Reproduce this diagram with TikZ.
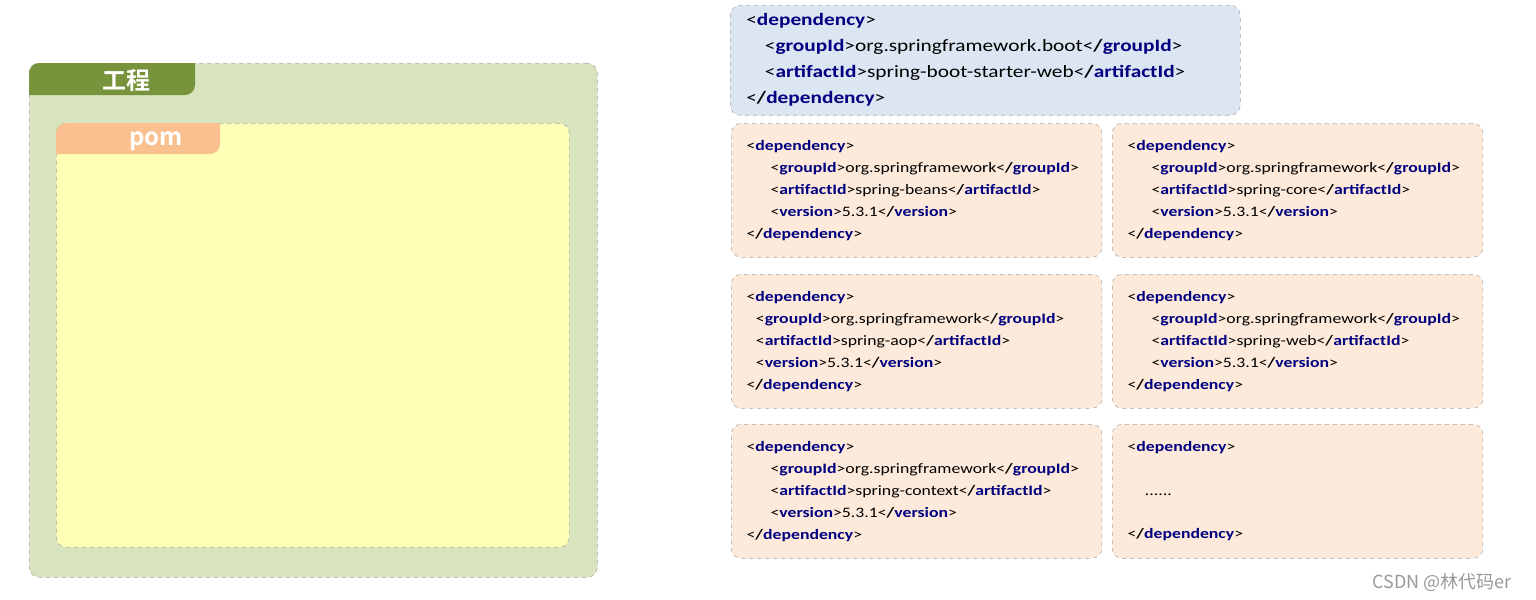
\documentclass[tikz,border=0pt]{standalone}
\usepackage{fontspec}
\usepackage{xcolor}
\usepackage{tikz}
\usetikzlibrary{positioning}

\newfontfamily\codefont[FakeStretch=1.23]{Carlito}
\newfontfamily\cjkfont[BoldFont={Noto Sans CJK SC Bold}]{Noto Sans CJK SC}

\definecolor{projgreen}{HTML}{D7E4BD}
\definecolor{tabgreen}{HTML}{77933C}
\definecolor{pomyellow}{HTML}{FFFFB5}
\definecolor{taborange}{HTML}{FAC090}
\definecolor{bootblue}{HTML}{DCE6F2}
\definecolor{deppeach}{HTML}{FDEADA}
\definecolor{dashgray}{HTML}{A6A6A6}
\definecolor{tagblue}{HTML}{000080}

\newcommand\xtag[1]{\textcolor{tagblue}{\bfseries #1}}
\newcommand\xopen[1]{<\xtag{#1}>}
\newcommand\xclose[1]{<\textbf{/}\xtag{#1}>}

\tikzset{
    box/.style={draw=dashgray, dashed, rounded corners=7.5pt, anchor=north west, inner sep=0pt},
    depbox/.style={box, fill=deppeach, text width=255pt, inner xsep=11.5pt,
        minimum height=100.5pt, align=left, font=\codefont\fontsize{10.8}{16.5}\selectfont},
    tablabel/.style={text=white, font=\cjkfont\bfseries\fontsize{18}{20}\selectfont},
}

\begin{document}
\begin{tikzpicture}[x=0.75pt, y=-0.75pt]
    \useasboundingbox (0,0) rectangle (1536,600);

    % 1. Khung dự án và nhãn
    \node[box, fill=projgreen, minimum width=426pt, minimum height=385.5pt] (proj) at (29,63) {};
    \begin{scope}
        \clip[rounded corners=7.5pt] (proj.north west) rectangle (proj.south east);
        \fill[tabgreen, rounded corners=7.5pt] (9,43) rectangle (195,95);
    \end{scope}
    \node[tablabel] (projlabel) at (126,80) {工程};

    % 2. Khung pom và nhãn
    \node[box, fill=pomyellow, minimum width=384.75pt, minimum height=318pt] (pom) at (56,123) {};
    \begin{scope}
        \clip[rounded corners=7.5pt] (pom.north west) rectangle (pom.south east);
        \fill[taborange, rounded corners=7.5pt] (36,103) rectangle (220,154);
    \end{scope}
    \node[tablabel] (pomlabel) at (156,141) {pom};

    % 3. Phụ thuộc starter
    \node[box, fill=bootblue, text width=358.5pt, inner xsep=12pt, minimum height=82.5pt,
        align=left, font=\codefont\fontsize{13}{19.5}\selectfont] (boot) at (730,5) {%
        \xopen{dependency}\\
        \hspace*{14pt}\xopen{groupId}org.springframework.boot\xclose{groupId}\\
        \hspace*{14pt}\xopen{artifactId}spring-boot-starter-web\xclose{artifactId}\\
        \xclose{dependency}};

    % 4. Các phụ thuộc spring
    \foreach \nm/\art/\cx/\cy/\ind in {beans/spring-beans/731/123/18, core/spring-core/1112/123/18,
        aop/spring-aop/731/274/7, web/spring-web/1112/274/18, context/spring-context/731/424/18} {
        \node[depbox] (dep\nm) at (\cx,\cy) {%
            \xopen{dependency}\\
            \hspace*{\ind pt}\xopen{groupId}org.springframework\xclose{groupId}\\
            \hspace*{\ind pt}\xopen{artifactId}\art\xclose{artifactId}\\
            \hspace*{\ind pt}\xopen{version}5.3.1\xclose{version}\\
            \xclose{dependency}};
    }
    \node[depbox] (depmore) at (1112,424) {%
        \xopen{dependency}\\[16pt]
        \hspace*{13pt}......\\[16pt]
        \xclose{dependency}};

    % 5. Chữ ký
    \node[text=gray!80, font=\cjkfont\fontsize{13.5}{15}\selectfont] (mark) at (1442,582) {CSDN @林代码er};
\end{tikzpicture}
\end{document}
